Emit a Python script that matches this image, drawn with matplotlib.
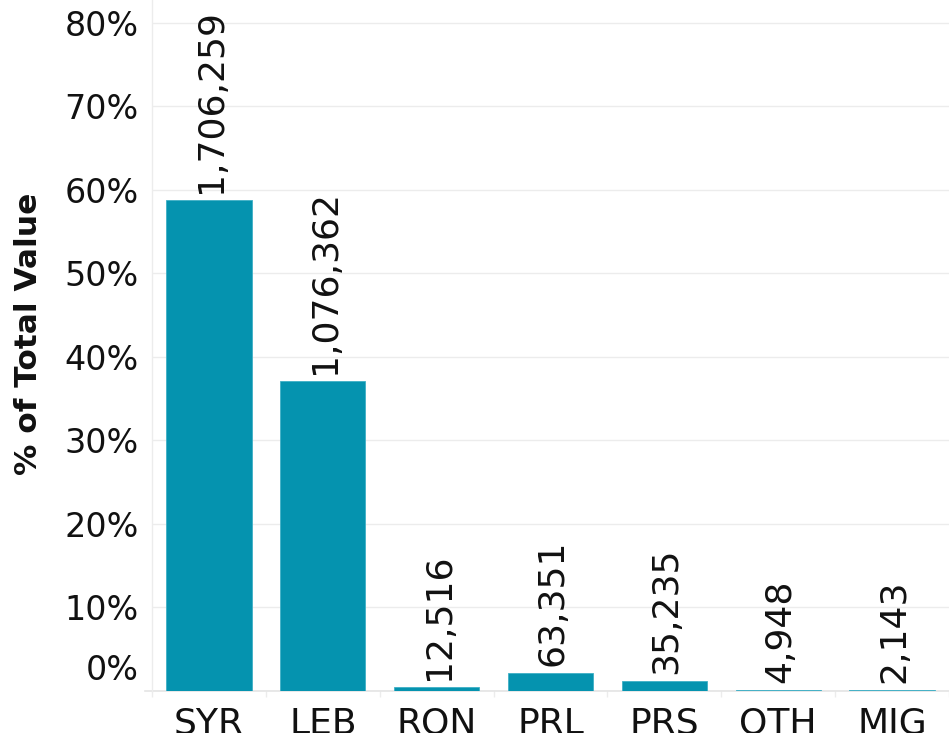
import matplotlib
matplotlib.use("Agg")
import matplotlib.pyplot as plt
import matplotlib.transforms as mtransforms
from matplotlib.lines import Line2D
from matplotlib.patches import Rectangle
import numpy as np

categories = ["SYR", "LEB", "RON", "PRL", "PRS", "OTH", "MIG"]
values = [1706259, 1076362, 12516, 63351, 35235, 4948, 2143]
y_ticks = [0.0, 0.1, 0.2, 0.3, 0.4, 0.5, 0.6, 0.7, 0.8]
y_tick_labels = ["0%", "10%", "20%", "30%", "40%", "50%", "60%", "70%", "80%"]

BAR_COLOR = "#0593af"
GRID_COLOR = "#ececec"

plt.rcParams["font.family"] = ["DejaVu Sans"]

share = np.array(values) / np.sum(values)
x = np.arange(len(categories))

fig = plt.figure(figsize=(9.49, 7.37), dpi=100)
ax = fig.add_axes([152 / 949, 46 / 737, 797 / 949, 691 / 737])

ax.bar(x, share, width=0.75, color=BAR_COLOR, edgecolor="#3fb0c6", linewidth=0.6, zorder=3)

for xi, s, v in zip(x, share, values):
    ax.annotate(f"{v:,}", (xi, s), xytext=(1.5, 5), textcoords="offset points",
                rotation=90, ha="center", va="bottom", fontsize=26, color="#111111",
                zorder=4)

ax.set_xlim(-0.5, -0.5 + 797 / 115)
ax.set_ylim(0, 0.8275)

ax.set_yticks(y_ticks)
ax.set_yticklabels(y_tick_labels, fontsize=24, color="#111111")
ax.tick_params(axis="y", length=0, pad=9.5)
# Tableau pushes the 0% label up so it stays inside the pane
zero_lbl = ax.get_yticklabels()[0]
zero_lbl.set_transform(zero_lbl.get_transform() +
                       mtransforms.ScaledTranslation(0, 24 / 100, fig.dpi_scale_trans))

ax.set_xticks(x)
ax.set_xticklabels(categories, fontsize=26, color="#111111")
ax.set_xticks(np.arange(len(categories) + 1) - 0.5, minor=True)
ax.tick_params(axis="x", which="major", length=0, pad=11.5)
ax.tick_params(axis="x", which="minor", length=4.5, width=1, color=GRID_COLOR, direction="out")

ax.grid(axis="y", color=GRID_COLOR, linewidth=1, zorder=0)
for side in ["top", "right", "bottom"]:
    ax.spines[side].set_visible(False)
ax.spines["left"].set_color(GRID_COLOR)
ax.spines["left"].set_linewidth(1)

ax.add_line(Line2D([-7 / 797, 1], [0, 0], transform=ax.transAxes, color="#e4e4e4",
                   linewidth=1.2, clip_on=False, zorder=2))

fig.text(29 / 949, 1 - 334 / 737, "% of Total Value", rotation=90, ha="center", va="center",
         fontsize=22.5, fontweight="bold", color="#111111")

# the category labels are cut off by the bottom edge of the view
fig.patches.append(Rectangle((0, 0), 1, 4 / 737, transform=fig.transFigure,
                             facecolor="white", edgecolor="none", zorder=10))

fig.savefig("out.png", dpi=100)
